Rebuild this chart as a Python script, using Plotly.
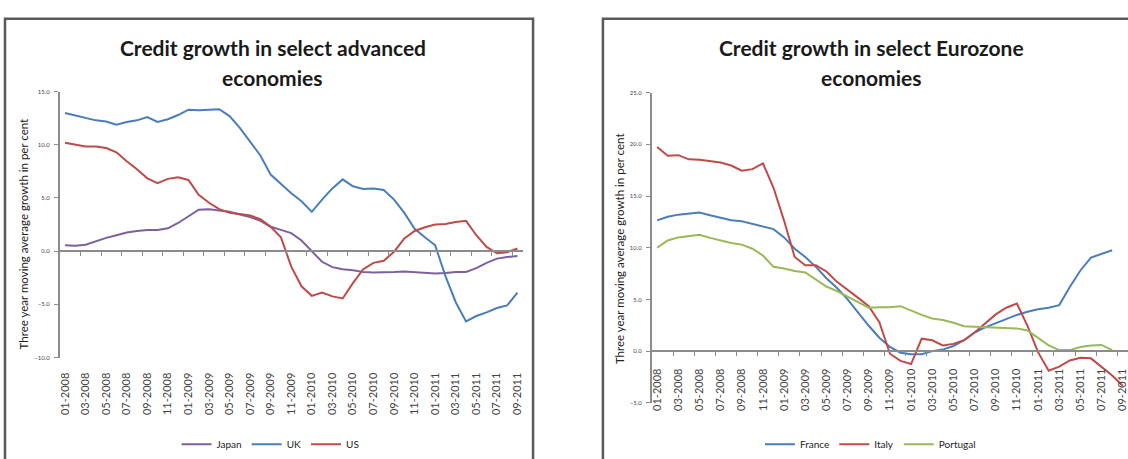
import plotly.graph_objects as go

# ---------------- data ----------------
months = [f"{m:02d}-{y}" for y in (2008, 2009, 2010, 2011) for m in range(1, 13)][:45]
idx = list(range(len(months)))

japan = [0.55, 0.5, 0.6, 0.95, 1.25, 1.5, 1.75, 1.9, 2.0, 2.0, 2.15, 2.65, 3.3, 3.9, 3.95,
         3.85, 3.7, 3.45, 3.2, 2.85, 2.3, 2.0, 1.7, 1.0, -0.05, -1.0, -1.5, -1.7, -1.8, -1.95,
         -2.0, -2.0, -1.95, -1.9, -1.95, -2.0, -2.1, -2.05, -1.95, -1.95, -1.6, -1.1, -0.7, -0.55, -0.45]
uk = [13.0, 12.75, 12.5, 12.3, 12.2, 11.9, 12.15, 12.3, 12.6, 12.15, 12.4, 12.8, 13.3, 13.25, 13.3,
      13.35, 12.7, 11.6, 10.3, 9.0, 7.2, 6.3, 5.45, 4.7, 3.7, 4.85, 5.9, 6.75, 6.1, 5.85,
      5.9, 5.75, 4.85, 3.6, 2.1, 1.3, 0.55, -2.35, -4.8, -6.6, -6.1, -5.75, -5.35, -5.1, -3.9]
us = [10.2, 10.05, 9.85, 9.85, 9.7, 9.3, 8.45, 7.7, 6.85, 6.4, 6.8, 6.95, 6.7, 5.3, 4.55,
      3.95, 3.6, 3.5, 3.35, 3.0, 2.3, 1.3, -1.45, -3.3, -4.2, -3.9, -4.25, -4.45, -3.0, -1.7,
      -1.1, -0.9, -0.05, 1.2, 1.9, 2.25, 2.5, 2.55, 2.75, 2.85, 1.5, 0.4, -0.2, -0.1, 0.25]

france = [12.65, 13.0, 13.2, 13.3, 13.4, 13.15, 12.9, 12.65, 12.55, 12.3, 12.1, 11.8, 11.0, 9.9, 9.1,
          8.15, 7.05, 6.1, 5.0, 3.7, 2.45, 1.3, 0.4, -0.15, -0.3, -0.3, 0.0, 0.15, 0.5, 1.05,
          1.8, 2.3, 2.7, 3.1, 3.5, 3.8, 4.05, 4.2, 4.45, 6.2, 7.8, 9.05, 9.4, 9.75, None]
italy = [19.75, 18.9, 18.95, 18.55, 18.5, 18.4, 18.25, 17.95, 17.45, 17.6, 18.15, 15.8, 12.6, 9.1, 8.3,
         8.3, 7.7, 6.7, 5.95, 5.15, 4.35, 2.8, -0.25, -0.95, -1.25, 1.2, 1.05, 0.55, 0.7, 1.05,
         1.8, 2.7, 3.55, 4.2, 4.6, 2.45, -0.1, -1.9, -1.5, -0.9, -0.65, -0.7, -1.5, -2.35, -3.35]
portugal = [10.0, 10.7, 11.0, 11.15, 11.25, 10.95, 10.7, 10.45, 10.3, 9.9, 9.25, 8.15, 8.0, 7.75, 7.6,
            6.9, 6.25, 5.8, 5.25, 4.7, 4.2, 4.25, 4.25, 4.35, 3.9, 3.5, 3.15, 3.0, 2.75, 2.4,
            2.35, 2.3, 2.3, 2.25, 2.2, 2.0, 1.25, 0.55, 0.1, 0.1, 0.4, 0.55, 0.6, 0.1, None]

title_left = ["Credit growth in select advanced", "economies"]
title_right = ["Credit growth in select Eurozone", "economies"]
y_title = "Three year moving average growth in per cent"

# ---------------- layout helpers ----------------
W, H = 1128, 459
def px(x):
    return x / W
def py(y):
    return 1 - y / H

BLUE, RED, GREEN, PURPLE = "#4A7EBB", "#BE4B48", "#98B954", "#7D60A0"
AXIS = "#8C8C8C"
FONT = "Lato"

L_dom_x = [px(58), px(521.5)]
L_dom_y = [py(359), py(89)]
L_range = [-10, 15]
R_dom_x = [px(651), 1.0]
R_dom_y = [py(405), py(90)]
R_range = [-5, 25]

def zero_pos(dom, rng):
    return dom[0] + (0 - rng[0]) / (rng[1] - rng[0]) * (dom[1] - dom[0])

label_vals = idx[::2]
label_text = months[::2]
boundary_vals = [i - 0.5 for i in idx[2::2]]
xr = [-0.5, len(months) - 0.5]

fig = go.Figure()

# left chart
fig.add_trace(go.Scatter(x=idx, y=japan, name="Japan", mode="lines",
                         line=dict(color=PURPLE, width=2), xaxis="x", yaxis="y", legend="legend"))
fig.add_trace(go.Scatter(x=idx, y=uk, name="UK", mode="lines",
                         line=dict(color=BLUE, width=2), xaxis="x3", yaxis="y", legend="legend"))
fig.add_trace(go.Scatter(x=idx, y=us, name="US", mode="lines",
                         line=dict(color=RED, width=2), xaxis="x3", yaxis="y", legend="legend"))
# right chart
fig.add_trace(go.Scatter(x=idx, y=france, name="France", mode="lines",
                         line=dict(color=BLUE, width=2), xaxis="x2", yaxis="y2", legend="legend2"))
fig.add_trace(go.Scatter(x=idx, y=italy, name="Italy", mode="lines",
                         line=dict(color=RED, width=2), xaxis="x4", yaxis="y2", legend="legend2"))
fig.add_trace(go.Scatter(x=idx, y=portugal, name="Portugal", mode="lines",
                         line=dict(color=GREEN, width=2), xaxis="x4", yaxis="y2", legend="legend2"))

tickfont_x = dict(family=FONT, size=11, color="#444")
tickfont_y = dict(family=FONT, size=6, color="#444")

common_label_axis = dict(range=xr, tickmode="array", tickvals=label_vals, ticktext=label_text,
                         tickangle=-90, ticks="", showgrid=False, zeroline=False,
                         tickfont=tickfont_x, ticklabelstandoff=12, fixedrange=True,
                         ticklabeloverflow="allow")
common_tick_axis = dict(range=xr, tickmode="array", tickvals=boundary_vals, ticks="outside",
                        ticklen=4, tickwidth=1, tickcolor=AXIS, showticklabels=False,
                        showgrid=False, zeroline=False, fixedrange=True)
common_y = dict(tickmode="linear", dtick=5, tickformat=".1f", ticks="outside", ticklen=4,
                tickwidth=1, tickcolor=AXIS, showline=True, linecolor=AXIS, linewidth=2,
                showgrid=False, zeroline=False, tickfont=tickfont_y, ticklabelstandoff=3,
                fixedrange=True)

fig.update_layout(
    width=W, height=H, autosize=False,
    margin=dict(l=0, r=0, t=0, b=0),
    paper_bgcolor="white", plot_bgcolor="white",
    font=dict(family=FONT, color="#222"),
    xaxis=dict(domain=L_dom_x, anchor="y", showline=False, **common_label_axis),
    xaxis3=dict(overlaying="x", anchor="free", position=zero_pos(L_dom_y, L_range),
                showline=True, linecolor=AXIS, linewidth=2, **common_tick_axis),
    yaxis=dict(domain=L_dom_y, anchor="x", range=L_range, **common_y),
    xaxis2=dict(domain=R_dom_x, anchor="free", position=zero_pos(R_dom_y, R_range),
                showline=True, linecolor=AXIS, linewidth=2, **common_label_axis),
    xaxis4=dict(overlaying="x2", anchor="free", position=zero_pos(R_dom_y, R_range),
                showline=False, **common_tick_axis),
    yaxis2=dict(domain=R_dom_y, anchor="x2", range=R_range, **common_y),
    legend=dict(orientation="h", x=px(269), xanchor="center", y=py(447), yanchor="middle",
                font=dict(family=FONT, size=10, color="#222"), bgcolor="rgba(0,0,0,0)",
                itemwidth=30, tracegroupgap=0),
    legend2=dict(orientation="h", x=px(870), xanchor="center", y=py(447), yanchor="middle",
                 font=dict(family=FONT, size=10, color="#222"), bgcolor="rgba(0,0,0,0)",
                 itemwidth=30, tracegroupgap=0),
    showlegend=True,
)

# chart borders
for x0, x1 in ((px(3), px(532)), (px(602), 1.05)):
    fig.add_shape(type="rect", xref="paper", yref="paper", x0=x0, x1=x1, y0=-0.05, y1=py(15),
                  line=dict(color="#595959", width=2.5), fillcolor="rgba(0,0,0,0)", layer="above")

# titles
for cx, lines in ((271, title_left), (871, title_right)):
    for yy, txt in zip((44, 75), lines):
        fig.add_annotation(text=txt, xref="paper", yref="paper", x=px(cx), y=py(yy),
                           xanchor="center", yanchor="middle", showarrow=False,
                           font=dict(family=FONT, size=21, color="#1a1a1a", weight="bold"))

# y-axis titles
for cx, cy in ((21, 233), (618, 248)):
    fig.add_annotation(text=y_title, xref="paper", yref="paper", x=px(cx), y=py(cy),
                       xanchor="center", yanchor="middle", showarrow=False, textangle=-90,
                       font=dict(family=FONT, size=11.5, color="#222"))

fig.write_html("out.html")
